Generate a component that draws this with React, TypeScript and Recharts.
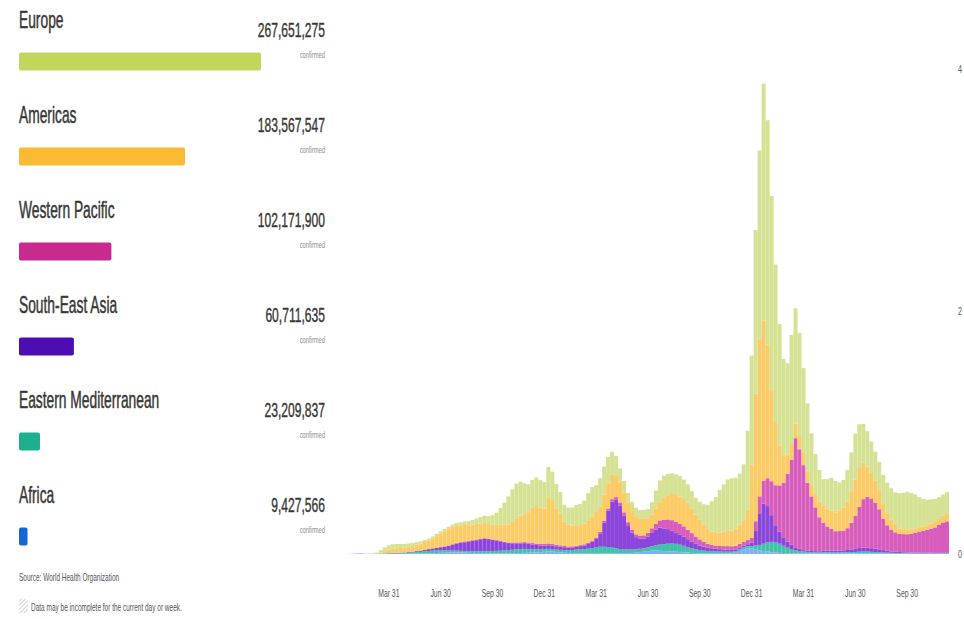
import { BarChart, Bar, XAxis, YAxis, Cell } from "recharts";

// Region totals (left panel)
const REGIONS = ["Europe", "Americas", "Western Pacific", "South-East Asia", "Eastern Mediterranean", "Africa"];
const TOTALS = [267651275, 183567547, 102171900, 60711635, 23209837, 9427566];
const REGION_COLORS = ["#c5d55c", "#fbba31", "#c82a90", "#4c0cb2", "#1db08e", "#1666d6"];

// Weekly new cases per day, thousands (week 0 = 6 Jan 2020)
const AFRICA = [
  0, 0, 0, 0, 0, 0, 0, 0, 0, 0,
  0.1, 0.3, 0.5, 0.7, 0.8, 1, 1.2, 1.7, 2, 2.5,
  3, 4, 5, 6.5, 8, 9.5, 11, 12, 13, 14,
  13, 12, 10, 9, 8, 7, 6, 5, 5, 5,
  5, 5.5, 6, 7, 7.5, 8, 9, 10, 12, 14,
  16, 18, 20, 20, 17, 14, 11, 9, 7, 6,
  6, 6, 6, 6, 6, 6, 5, 5, 5, 5,
  5, 6, 7, 9, 12, 16, 20, 24, 28, 29,
  27, 24, 22, 20, 19, 17, 15, 12, 9, 7,
  6, 5, 4, 4, 4, 4, 4, 4, 5, 10,
  25, 40, 48,
  45, 40, 30, 25, 20, 15, 12, 10, 8, 7,
  6, 5, 5, 5, 5, 5, 5, 5, 6, 7,
  8, 8, 8, 7, 6, 6, 5, 5, 5, 5,
  4, 4, 4, 3, 3, 3, 3, 3, 2, 2,
  2, 2, 2, 2, 2, 2, 2, 2, 2, 2,
];
const EAST_MED = [
  0, 0, 0, 0, 0, 0, 0, 0.5, 1.5, 2,
  3, 4, 5, 5, 5, 6, 7, 9, 11, 13,
  15, 18, 20, 21, 21, 20, 18, 17, 16, 14,
  13, 13, 13, 14, 14, 15, 16, 18, 19, 21,
  22, 24, 26, 29, 31, 33, 33, 30, 27, 25,
  23, 22, 22, 21, 20, 20, 21, 23, 26, 30,
  33, 35, 38, 42, 48, 54, 55, 52, 47, 42,
  36, 32, 30, 28, 27, 27, 28, 31, 36, 42,
  50, 57, 63, 66, 65, 60, 53, 45, 38, 32,
  27, 23, 20, 18, 17, 16, 15, 15, 14, 14,
  14, 15, 17,
  20, 30, 45, 60, 75, 85, 85, 75, 60, 45,
  35, 25, 20, 15, 12, 10, 9, 8, 8, 8,
  8, 8, 8, 8, 9, 10, 12, 14, 15, 15,
  14, 12, 10, 9, 8, 7, 6, 5, 5, 5,
  4, 4, 4, 4, 4, 4, 4, 4, 4, 4,
];
const SE_ASIA = [
  0, 0, 0, 0, 0, 0, 0, 0, 0, 0.1,
  0.2, 0.5, 1, 2, 2.5, 3, 3.5, 5, 6, 8,
  10, 12, 15, 18, 22, 26, 32, 38, 48, 58,
  65, 72, 78, 85, 92, 100, 105, 100, 92, 85,
  78, 68, 58, 53, 50, 47, 47, 45, 40, 35,
  32, 30, 30, 28, 27, 26, 24, 22, 22, 24,
  26, 30, 38, 52, 70, 110, 200, 300, 380, 400,
  360, 280, 200, 140, 100, 85, 80, 90, 110, 130,
  140, 130, 120, 105, 90, 80, 75, 65, 55, 45,
  38, 32, 28, 25, 22, 20, 18, 16, 15, 14,
  14, 14, 16,
  30, 120, 260, 330, 300, 220, 140, 100, 70, 50,
  35, 25, 18, 12, 10, 10, 10, 10, 12, 12,
  12, 12, 13, 15, 18, 22, 26, 30, 32, 32,
  30, 28, 25, 20, 16, 12, 10, 8, 7, 6,
  5, 5, 4, 4, 4, 4, 3, 3, 3, 3,
];
const WEST_PACIFIC = [
  0, 0, 0.5, 2, 3, 4, 2, 1, 0.8, 0.6,
  0.8, 1.2, 1.8, 2.2, 2, 1.6, 1.2, 1, 0.9, 0.9,
  1, 1.1, 1.2, 1.4, 1.6, 2, 2.5, 3.5, 4.5, 5.5,
  6.5, 7, 6.5, 6, 5.5, 5, 5, 4.5, 4.5, 4.5,
  4.5, 4.5, 5, 5.5, 6.5, 8, 9, 10, 11, 12,
  13, 13, 15, 15, 13, 12, 10, 9, 8, 8,
  8, 9, 10, 11, 12, 14, 16, 18, 20, 22,
  24, 25, 25, 24, 23, 24, 26, 30, 38, 48,
  60, 70, 80, 88, 92, 90, 85, 78, 70, 60,
  50, 40, 33, 28, 26, 26, 28, 30, 30, 30,
  30, 30, 34,
  40, 80, 140, 190, 230, 280, 330, 380, 450, 560,
  700, 900, 820, 700, 560, 450, 360, 280, 230, 200,
  180, 160, 160, 160, 180, 220, 270, 340, 400, 420,
  410, 380, 330, 260, 210, 180, 160, 150, 150, 150,
  155, 165, 175, 180, 190, 200, 210, 230, 250, 260,
];
const AMERICAS = [
  0, 0, 0, 0, 0, 0, 0, 0, 0.3, 2,
  8, 18, 27, 33, 36, 38, 40, 43, 47, 53,
  58, 64, 70, 80, 95, 110, 125, 135, 140, 140,
  138, 135, 130, 128, 128, 125, 125, 120, 120, 125,
  130, 140, 150, 170, 200, 220, 230, 250, 290, 310,
  300, 290, 380, 360, 300, 260, 200, 180, 170, 170,
  165, 170, 180, 200, 210, 210, 215, 215, 200, 180,
  170, 165, 160, 160, 150, 140, 135, 120, 115, 125,
  150, 180, 200, 215, 220, 225, 225, 220, 200, 180,
  160, 140, 120, 110, 110, 110, 120, 130, 130, 140,
  160, 180, 250,
  600, 1050, 1300, 1320, 1100, 750, 520, 330, 220, 160,
  130, 120, 110, 100, 95, 100, 110, 130, 140, 150,
  150, 155, 170, 190, 220, 260, 300, 320, 300, 250,
  210, 180, 150, 120, 100, 80, 60, 45, 40, 40,
  38, 36, 35, 35, 38, 40, 45, 50, 55, 60,
];
const EUROPE = [
  0, 0, 0, 0, 0, 0, 0, 0, 2, 8,
  20, 30, 36, 38, 36, 34, 30, 27, 24, 20,
  18, 17, 17, 18, 19, 19, 19, 20, 22, 24,
  26, 30, 34, 38, 45, 52, 58, 64, 80, 100,
  140, 180, 230, 270, 285, 280, 255, 230, 230, 235,
  225, 220, 250, 235, 200, 180, 140, 140, 150, 165,
  175, 190, 230, 240, 220, 230, 230, 210, 190, 160,
  110, 95, 80, 70, 70, 70, 75, 75, 100, 150,
  180, 185, 175, 170, 170, 170, 160, 155, 145, 140,
  150, 170, 200, 250, 290, 350, 390, 420, 430, 420,
  420, 460, 650,
  900, 1350, 1550, 1950, 1850, 1600, 1300, 1000, 800, 750,
  900, 950, 850, 700, 560, 420, 330, 260, 220, 240,
  270, 260, 230, 230, 260, 320, 380, 360, 320, 290,
  260, 240, 240, 240, 250, 260, 270, 290, 300, 310,
  300, 280, 250, 230, 210, 200, 190, 180, 175, 180,
];

// x-axis: weeks holding each quarter end
const TICK_WEEKS = [12, 25, 38, 51, 64, 77, 90, 103, 116, 129, 142];
const TICK_LABELS = ["Mar 31", "Jun 30", "Sep 30", "Dec 31", "Mar 31", "Jun 30", "Sep 30", "Dec 31", "Mar 31", "Jun 30", "Sep 30"];
const Y_TICKS = [0, 2000, 4000];

const SERIES = [
  { key: "africa", color: "#7fb0ee" },
  { key: "eastMed", color: "#3fc2a8" },
  { key: "seAsia", color: "#8b45da" },
  { key: "westPacific", color: "#d85cbd" },
  { key: "americas", color: "#fdcb66" },
  { key: "europe", color: "#d5e294" },
];

const weeklyRows = EUROPE.map((_, i) => ({
  week: i,
  africa: AFRICA[i],
  eastMed: EAST_MED[i],
  seAsia: SE_ASIA[i],
  westPacific: WEST_PACIFIC[i],
  americas: AMERICAS[i],
  europe: EUROPE[i],
}));

const regionRows = REGIONS.map((region, i) => ({ region, total: TOTALS[i] }));

const FONT = "'Liberation Sans', Arial, sans-serif";

function RegionBar(props: any) {
  const { x, y, width, height, payload, index } = props;
  return (
    <g>
      <rect x={x} y={y} width={Math.max(width, 0)} height={height} rx={2} fill={REGION_COLORS[index]} />
      <text
        transform={`translate(${x},${y - 25}) scale(0.6,1)`}
        fontSize={23}
        fill="#383838"
        stroke="#383838"
        strokeWidth={0.5}
        fontFamily={FONT}
      >
        {payload.region}
      </text>
      <text
        transform={`translate(325,${y - 16}) scale(0.62,1)`}
        textAnchor="end"
        fontSize={19.5}
        fill="#383838"
        stroke="#383838"
        strokeWidth={0.4}
        fontFamily={FONT}
      >
        {payload.total.toLocaleString("en-US")}
      </text>
      <text
        transform={`translate(325,${y + 5}) scale(0.64,1)`}
        textAnchor="end"
        fontSize={9}
        fill="#8a8a8a"
        fontFamily={FONT}
      >
        confirmed
      </text>
    </g>
  );
}

function WeekTick(props: any) {
  const { x, y, payload } = props;
  const label = TICK_LABELS[TICK_WEEKS.indexOf(payload.value)] ?? "";
  return (
    <text transform={`translate(${x},${y + 9}) scale(0.65,1)`} textAnchor="middle" fontSize={10.5} fill="#555" fontFamily={FONT}>
      {label}
    </text>
  );
}

function CountTick(props: any) {
  const { x, y, payload } = props;
  return (
    <text transform={`translate(${x},${y + 4}) scale(0.65,1)`} fontSize={11} fill="#555" fontFamily={FONT}>
      {payload.value / 1000}
    </text>
  );
}

export default function App() {
  return (
    <div
      style={{
        position: "absolute",
        left: 0,
        top: 0,
        width: 964,
        height: 619,
        overflow: "hidden",
        background: "#fff",
        fontFamily: FONT,
      }}
    >
      {/* region totals */}
      <div style={{ position: "absolute", left: 0, top: 0 }}>
        <BarChart
          width={340}
          height={619}
          data={regionRows}
          layout="vertical"
          margin={{ top: 13.5, right: 79, bottom: 35.5, left: 19 }}
          barSize={18}
        >
          <XAxis type="number" hide domain={[0, TOTALS[0]]} />
          <YAxis type="category" dataKey="region" hide />
          <Bar dataKey="total" isAnimationActive={false} shape={<RegionBar />}>
            {regionRows.map((_, i) => (
              <Cell key={i} fill={REGION_COLORS[i]} />
            ))}
          </Bar>
        </BarChart>
      </div>

      <svg style={{ position: "absolute", left: 0, top: 0 }} width={340} height={619}>
        <defs>
          <pattern id="hatch" width="3" height="3" patternUnits="userSpaceOnUse" patternTransform="rotate(45)">
            <line x1="0" y1="0" x2="0" y2="3" stroke="#b5b5b5" strokeWidth="1.2" />
          </pattern>
        </defs>
        <text transform="translate(19,581) scale(0.65,1)" fontSize={10} fill="#555" fontFamily={FONT}>
          Source: World Health Organization
        </text>
        <rect x={19} y={599} width={9} height={14} fill="url(#hatch)" />
        <text transform="translate(31,611) scale(0.65,1)" fontSize={10} fill="#555" fontFamily={FONT}>
          Data may be incomplete for the current day or week.
        </text>
      </svg>

      {/* daily cases by region */}
      <div style={{ position: "absolute", left: 0, top: 0 }}>
        <BarChart
          width={964}
          height={619}
          data={weeklyRows}
          margin={{ top: 8, right: 0, bottom: 15, left: 339 }}
          barCategoryGap={0}
          barGap={0}
        >
          <XAxis
            dataKey="week"
            type="category"
            ticks={TICK_WEEKS}
            interval={0}
            tick={<WeekTick />}
            tickLine={false}
            axisLine={false}
            tickSize={0}
            tickMargin={34}
            height={50}
          />
          <YAxis
            orientation="right"
            domain={[0, 4500]}
            ticks={Y_TICKS}
            tick={<CountTick />}
            tickLine={false}
            axisLine={false}
            tickSize={0}
            tickMargin={9}
            width={15}
            allowDataOverflow
          />
          {SERIES.map((s) => (
            <Bar key={s.key} dataKey={s.key} stackId="cases" fill={s.color} isAnimationActive={false} />
          ))}
        </BarChart>
      </div>
    </div>
  );
}
